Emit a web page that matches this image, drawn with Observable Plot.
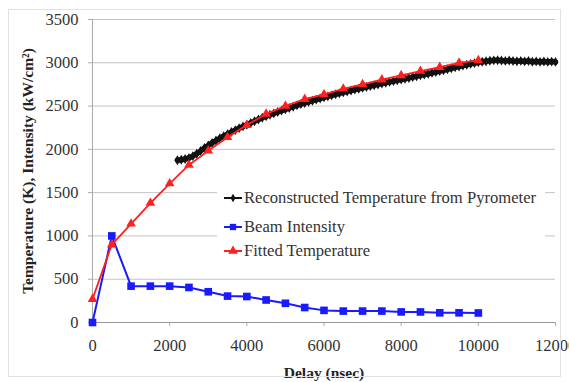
<!DOCTYPE html>
<html>
<head>
<meta charset="utf-8">
<script src="https://cdn.jsdelivr.net/npm/d3@7"></script>
<script src="https://cdn.jsdelivr.net/npm/@observablehq/plot@0.6"></script>
<style>
  html, body { margin: 0; padding: 0; background: #fff; }
  #wrap { position: relative; width: 569px; height: 382px; overflow: hidden; }
  #frame { position: absolute; left: 8px; top: 9px; width: 553px; height: 368px; border: 1px solid #e2e2e2; box-sizing: border-box; pointer-events: none; }
  #legend { position: absolute; left: 217px; top: 184px; width: 328px; height: 84px; background: #fff;
            font-family: "Liberation Serif", "DejaVu Serif", "Noto Serif", Times, serif; font-size: 16.6px; color: #333; }
  .row { position: absolute; left: 6px; height: 20px; display: flex; align-items: center; white-space: nowrap; }
  .row svg { margin-right: 1px; }
</style>
</head>
<body>
<div id="wrap"><div id="chart"></div><div id="legend"></div><div id="frame"></div></div>
<script>
// ---- data ----
const seriesNames = ["Reconstructed Temperature from Pyrometer", "Beam Intensity", "Fitted Temperature"];
const seriesColors = ["#111111", "#1a1aff", "#ff2020"];
const seriesSymbols = ["diamond", "square", "triangle"];

const xTicks = [0, 2000, 4000, 6000, 8000, 10000, 12000];
const yTicks = [0, 500, 1000, 1500, 2000, 2500, 3000, 3500];

const beamDelay = [0, 500, 1000, 1500, 2000, 2500, 3000, 3500, 4000, 4500, 5000, 5500, 6000, 6500, 7000, 7500, 8000, 8500, 9000, 9500, 10000];
const beamIntensity = [0, 1000, 420, 420, 420, 405, 355, 305, 300, 260, 222, 173, 140, 132, 132, 132, 122, 122, 112, 112, 110];

const fitDelay = beamDelay;
const fitTemp = [270, 900, 1140, 1380, 1605, 1820, 1985, 2140, 2280, 2410, 2500, 2580, 2635, 2700, 2750, 2805, 2855, 2905, 2950, 2998, 3028];

const pyroDelay = [2200, 2300, 2400, 2500, 2600, 2700, 2800, 2900, 3000, 3100, 3200, 3300, 3400, 3500, 3600, 3700, 3800, 3900,
  4000, 4100, 4200, 4300, 4400, 4500, 4600, 4700, 4800, 4900, 5000, 5100, 5200, 5300, 5400, 5500, 5600, 5700, 5800, 5900,
  6000, 6100, 6200, 6300, 6400, 6500, 6600, 6700, 6800, 6900, 7000, 7100, 7200, 7300, 7400, 7500, 7600, 7700, 7800, 7900,
  8000, 8100, 8200, 8300, 8400, 8500, 8600, 8700, 8800, 8900, 9000, 9100, 9200, 9300, 9400, 9500, 9600, 9700, 9800, 9900,
  10000, 10100, 10200, 10300, 10400, 10500, 10600, 10700, 10800, 10900, 11000, 11100, 11200, 11300, 11400, 11500, 11600, 11700, 11800, 11900, 12000];
const pyroTemp = [1875, 1880, 1888, 1900, 1922, 1950, 1982, 2015, 2045, 2075, 2102, 2128, 2152, 2176, 2200, 2222, 2245, 2265,
  2285, 2305, 2325, 2345, 2365, 2383, 2400, 2416, 2432, 2448, 2463, 2478, 2493, 2508, 2522, 2536, 2550, 2562, 2575, 2587,
  2600, 2612, 2624, 2636, 2647, 2658, 2669, 2680, 2690, 2700, 2710, 2720, 2730, 2740, 2750, 2760, 2770, 2779, 2788, 2797,
  2806, 2815, 2825, 2835, 2845, 2855, 2865, 2874, 2884, 2894, 2904, 2914, 2925, 2936, 2947, 2957, 2967, 2977, 2987, 2996,
  3005, 3012, 3018, 3024, 3028, 3030, 3026, 3022, 3026, 3021, 3017, 3022, 3016, 3020, 3012, 3016, 3011, 3015, 3010, 3014, 3010];

const xLabel = "Delay (nsec)";
const yLabel = "Temperature (K), Intensity (kW/cm²)";

// ---- build tables ----
const pyro = pyroDelay.map((d, i) => ({x: d, y: pyroTemp[i]}));
const beam = beamDelay.map((d, i) => ({x: d, y: beamIntensity[i]}));
const fit = fitDelay.map((d, i) => ({x: d, y: fitTemp[i]}));

const font = '"Liberation Serif", "DejaVu Serif", "Noto Serif", Times, serif';
const fmt = d => String(d);

const plot = Plot.plot({
  width: 569,
  height: 382,
  marginLeft: 92,
  marginRight: 14,
  marginTop: 19,
  marginBottom: 60,
  style: {fontFamily: font, fontSize: "16px", color: "#333", background: "transparent", overflow: "hidden"},
  x: {domain: [0, 12000], label: null},
  y: {domain: [0, 3500], label: null},
  marks: [
    Plot.ruleY(yTicks.filter(d => d > 0), {stroke: "#c4c4c4", strokeWidth: 1}),
    Plot.axisY({ticks: yTicks, tickFormat: fmt, tickSize: 4, tickPadding: 10, stroke: "#aaa", label: null, fontSize: 16.5, fontFamily: font}),
    Plot.axisX({ticks: xTicks, tickFormat: fmt, tickSize: 4, tickPadding: 13, stroke: "#aaa", label: null, fontSize: 16.5, fontFamily: font}),
    Plot.ruleY([0], {stroke: "#999", strokeWidth: 1}),
    Plot.ruleX([0], {stroke: "#aaa", strokeWidth: 1}),
    // pyrometer
    Plot.line(pyro, {x: "x", y: "y", stroke: seriesColors[0], strokeWidth: 5.5}),
    Plot.dot(pyro, {x: "x", y: "y", symbol: seriesSymbols[0], r: 3, fill: seriesColors[0], stroke: "none"}),
    // beam
    Plot.line(beam, {x: "x", y: "y", stroke: seriesColors[1], strokeWidth: 2}),
    Plot.dot(beam, {x: "x", y: "y", symbol: seriesSymbols[1], r: 4.3, fill: seriesColors[1], stroke: "none"}),
    // fitted
    Plot.line(fit, {x: "x", y: "y", stroke: seriesColors[2], strokeWidth: 1.8}),
    Plot.dot(fit, {x: "x", y: "y", symbol: seriesSymbols[2], r: 3.6, fill: seriesColors[2], stroke: "none"}),
    // axis titles
    Plot.text([xLabel], {frameAnchor: "bottom", textAnchor: "middle", dy: 55, text: d => d, fontWeight: "bold", fontSize: 15.5, fill: "#222", fontFamily: font}),
    Plot.text([yLabel], {frameAnchor: "left", textAnchor: "middle", dx: -64, rotate: -90, text: d => d, fontWeight: "bold", fontSize: 15.5, fill: "#222", fontFamily: font})
  ]
});
document.getElementById("chart").appendChild(plot);

// ---- legend ----
const legend = document.getElementById("legend");
const rowTops = [4, 33, 57];
seriesNames.forEach((name, i) => {
  const row = document.createElement("div");
  row.className = "row";
  row.style.top = rowTops[i] + "px";
  const sw = d3.create("svg").attr("width", 20).attr("height", 14);
  sw.append("line").attr("x1", 1).attr("x2", 19).attr("y1", 7).attr("y2", 7)
    .attr("stroke", seriesColors[i]).attr("stroke-width", 2);
  const sym = {diamond: d3.symbolDiamond, square: d3.symbolSquare, triangle: d3.symbolTriangle}[seriesSymbols[i]];
  sw.append("path").attr("transform", "translate(10,7)")
    .attr("d", d3.symbol(sym, i === 0 ? 22 : 40)()).attr("fill", seriesColors[i]);
  row.appendChild(sw.node());
  const t = document.createElement("span");
  t.textContent = name;
  row.appendChild(t);
  legend.appendChild(row);
});
</script>
</body>
</html>
